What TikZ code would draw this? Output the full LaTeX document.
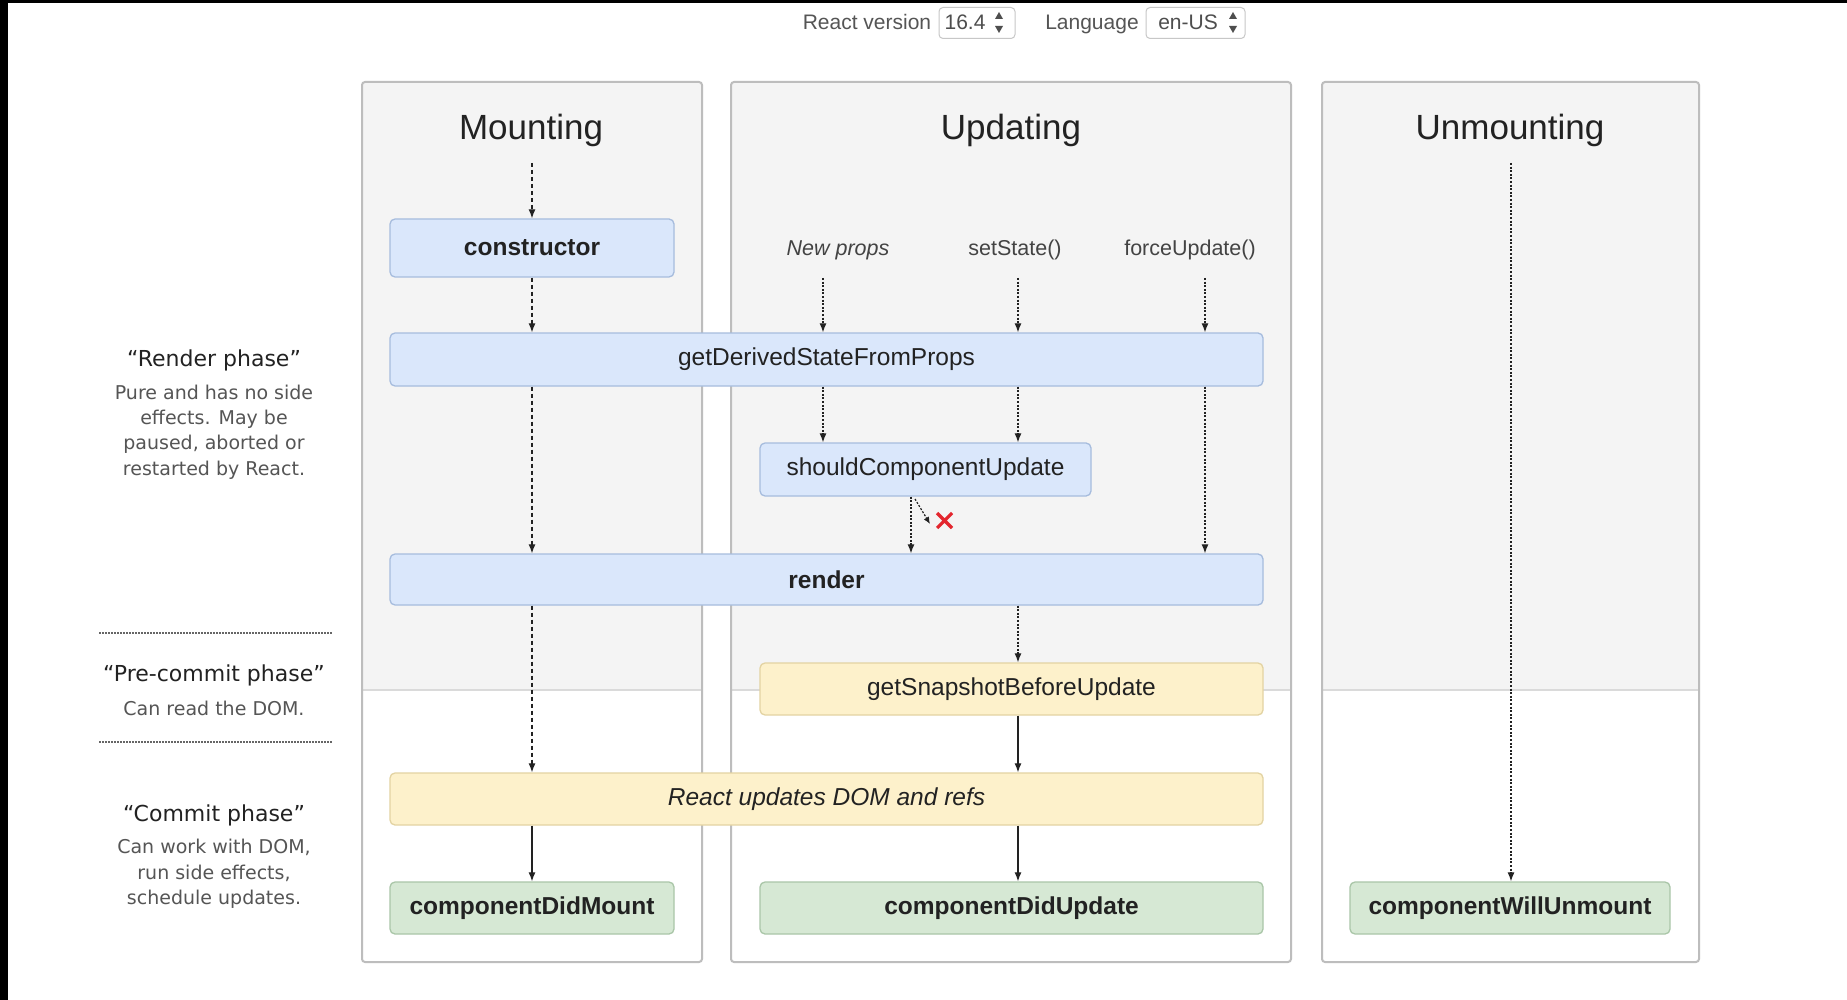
\documentclass[tikz,border=0pt]{standalone}
\usepackage{fontspec}
\setmainfont{Liberation Sans}
\newfontfamily\sidefont{DejaVu Sans}
\usetikzlibrary{arrows.meta,calc}
\definecolor{colbg}{HTML}{F4F4F4}
\definecolor{colline}{HTML}{BDBDBD}
\definecolor{divline}{HTML}{DADADA}
\definecolor{bluefill}{HTML}{DAE7FB}
\definecolor{blueline}{HTML}{A6BCDD}
\definecolor{yelfill}{HTML}{FDF1CB}
\definecolor{yelline}{HTML}{E3D3A2}
\definecolor{grnfill}{HTML}{D6E8D4}
\definecolor{grnline}{HTML}{AAC6A8}
\definecolor{txt}{HTML}{222222}
\definecolor{soft}{HTML}{555555}
\definecolor{xred}{HTML}{E3262E}
\begin{document}
\begin{tikzpicture}[x=1pt,y=-1pt,
  box/.style={draw, rounded corners=5pt, line width=1.3pt, inner sep=0pt,
    font=\fontsize{24.5}{29}\selectfont, text=txt},
  bluebox/.style={box, fill=bluefill, draw=blueline},
  yelbox/.style={box, fill=yelfill, draw=yelline},
  grnbox/.style={box, fill=grnfill, draw=grnline},
  coltitle/.style={font=\fontsize{35}{40}\selectfont, text=txt},
  evlabel/.style={font=\fontsize{21.5}{26}\selectfont, text=txt!85},
  toplabel/.style={font=\fontsize{21}{25}\selectfont, text=soft, anchor=base},
  selbox/.style={draw=black!22, fill=white, rounded corners=4pt, line width=1pt, inner sep=0pt},
  sidehead/.style={font=\sidefont\fontsize{22}{26}\selectfont, text=txt},
  sidebody/.style={font=\sidefont\fontsize{19}{25.3}\selectfont, text=soft, align=center},
  arr/.style={-{Latex[length=9pt,width=7pt]}, line width=1.2pt, draw=txt},
  dsh/.style={arr, dash pattern=on 4pt off 3pt},
  dtt/.style={arr, dash pattern=on 2pt off 1.6pt},
  phaseline/.style={line width=1.6pt, draw=black!60, dash pattern=on 1.6pt off 1.4pt}
]
\useasboundingbox (0,0) rectangle (1847,1000);
\fill[white] (0,0) rectangle (1847,1000);
\fill[black] (0,0) rectangle (8,1000);
\fill[black] (0,0) rectangle (1847,3);

% top selectors
\node[toplabel] (rv) at (867,30) {React version};
\node[selbox, minimum width=76pt, minimum height=31pt] (verbox) at (977,23) {};
\node[toplabel, text=txt!80] (ver) at (965,30) {16.4};
\fill[txt!80] (999,12) -- (995,19) -- (1003,19) -- cycle;
\fill[txt!80] (999,33) -- (995,26) -- (1003,26) -- cycle;
\node[toplabel] (lang) at (1092,30) {Language};
\node[selbox, minimum width=99pt, minimum height=31pt] (langbox) at (1195.5,23) {};
\node[toplabel, text=txt!80] (lng) at (1188,30) {en-US};
\fill[txt!80] (1233,12) -- (1229,19) -- (1237,19) -- cycle;
\fill[txt!80] (1233,33) -- (1229,26) -- (1237,26) -- cycle;

% columns
\foreach \l/\r in {362/702, 731/1291, 1322/1699}{
  \fill[white] (\l,82) rectangle (\r,962);
  \fill[colbg] (\l,82) rectangle (\r,690);
  \draw[divline, line width=1.2pt] (\l,690) -- (\r,690);
  \draw[colline, line width=2pt, rounded corners=3pt] (\l,82) rectangle (\r,962);
}
\node[coltitle] (tmount) at (531,130) {Mounting};
\node[coltitle] (tupd) at (1011,130) {Updating};
\node[coltitle] (tunm) at (1510,130) {Unmounting};

% side phase texts
\node[sidehead] (rph) at (214,360) {“Render phase”};
\node[sidebody] (rphb) at (214,432) {Pure and has no side\\effects. May be\\paused, aborted or\\restarted by React.};
\coordinate (l1a) at (99,633); \coordinate (l1b) at (332,633);
\draw[phaseline] (l1a) -- (l1b);
\node[sidehead] (pph) at (214,675) {“Pre-commit phase”};
\node[sidebody] (pphb) at (214,708) {Can read the DOM.};
\coordinate (l2a) at (99,742); \coordinate (l2b) at (332,742);
\draw[phaseline] (l2a) -- (l2b);
\node[sidehead] (cph) at (214,815) {“Commit phase”};
\node[sidebody] (cphb) at (214,874) {Can work with DOM,\\run side effects,\\schedule updates.};

% lifecycle boxes
\node[bluebox, minimum width=284pt, minimum height=58pt] (ctor) at (532,248) {\bfseries constructor};
\node[bluebox, minimum width=873pt, minimum height=53pt] (gdsfp) at (826.5,359.5) {getDerivedStateFromProps};
\node[bluebox, minimum width=331pt, minimum height=53pt] (scu) at (925.5,469.5) {shouldComponentUpdate};
\node[bluebox, minimum width=873pt, minimum height=51pt] (render) at (826.5,579.5) {\bfseries render};
\node[yelbox, minimum width=503pt, minimum height=52pt] (snap) at (1011.5,689) {getSnapshotBeforeUpdate};
\node[yelbox, minimum width=873pt, minimum height=52pt] (rudom) at (826.5,799) {\itshape React updates DOM and refs};
\node[grnbox, minimum width=284pt, minimum height=52pt] (cdm) at (532,908) {\bfseries componentDidMount};
\node[grnbox, minimum width=503pt, minimum height=52pt] (cdu) at (1011.5,908) {\bfseries componentDidUpdate};
\node[grnbox, minimum width=320pt, minimum height=52pt] (cwu) at (1510,908) {\bfseries componentWillUnmount};

% update triggers
\node[evlabel] (np) at (838,250) {\itshape New props};
\node[evlabel] (ss) at (1015,250) {setState()};
\node[evlabel] (fu) at (1190,250) {forceUpdate()};
\coordinate (npa) at (823,278);
\coordinate (ssa) at (1018,278);
\coordinate (fua) at (1205,278);
\coordinate (m0) at (532,163);
\coordinate (u0) at (1511,163);
\coordinate (sx) at (911,0);

% mounting connectors
\draw[dsh] (m0) -- (ctor.north);
\draw[dsh] (ctor.south) -- (gdsfp.north -| ctor);
\draw[dsh] (gdsfp.south -| ctor) -- (render.north -| ctor);
\draw[dsh] (render.south -| ctor) -- (rudom.north -| ctor);
\draw[arr] (rudom.south -| ctor) -- (cdm.north);

% updating connectors
\draw[dtt] (npa) -- (gdsfp.north -| npa);
\draw[dtt] (ssa) -- (gdsfp.north -| ssa);
\draw[dtt] (fua) -- (gdsfp.north -| fua);
\draw[dtt] (gdsfp.south -| npa) -- (scu.north -| npa);
\draw[dtt] (gdsfp.south -| ssa) -- (scu.north -| ssa);
\draw[dtt] (gdsfp.south -| fua) -- (render.north -| fua);
\draw[dtt] (scu.south -| sx) -- (render.north -| sx);
\coordinate (xs) at (915,499);
\coordinate (xe) at (930,524);
\draw[dtt, -{Latex[length=7pt,width=6pt]}] (xs) -- (xe);
\draw[xred, line width=3.2pt] (937,513) -- (952,528) (952,513) -- (937,528);
\draw[dtt] (render.south -| ssa) -- (snap.north -| ssa);
\draw[arr] (snap.south -| ssa) -- (rudom.north -| ssa);
\draw[arr] (rudom.south -| ssa) -- (cdu.north -| ssa);

% unmounting connector
\draw[dtt] (u0) -- (cwu.north -| u0);
\end{tikzpicture}
\end{document}
